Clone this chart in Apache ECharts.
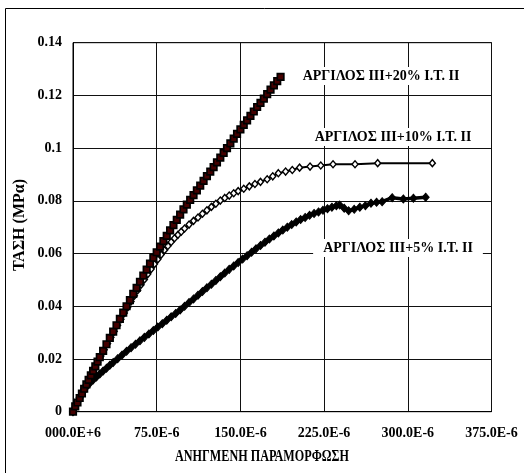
<!DOCTYPE html>
<html>
<head>
<meta charset="utf-8">
<script src="https://cdn.jsdelivr.net/npm/echarts@6/dist/echarts.min.js"></script>
<style>
html,body{margin:0;padding:0;background:#fff;}
#chart{width:524px;height:473px;}
</style>
</head>
<body>
<div id="chart"></div>
<script>
// strain in units of 1e-6, stress in MPa
const seriesNames = ['ΑΡΓΙΛΟΣ ΙΙΙ+20% Ι.Τ. ΙΙ', 'ΑΡΓΙΛΟΣ ΙΙΙ+10% Ι.Τ. ΙΙ', 'ΑΡΓΙΛΟΣ ΙΙΙ+5% Ι.Τ. ΙΙ'];

const strain20 = [0,2,4,6,8,10,12,14,16,18,20,22,24,27,30,33,36,39,42,45,48,51,54,57,60,63,66,69,72,75,78,81,84,87,90,93,96,99,102,105,108,111,114,117,120,123,126,129,132,135,138,141,144,147,150,153,156,159,162,165,168,171,174,177,180,183,186];
const stress20 = [0,0.002,0.0035,0.0052,0.0069,0.0087,0.0104,0.0121,0.0138,0.0155,0.0172,0.019,0.0207,0.0231,0.0256,0.028,0.0304,0.0328,0.0352,0.0376,0.04,0.0423,0.0447,0.047,0.0493,0.0516,0.0539,0.0562,0.0584,0.0605,0.0626,0.0647,0.0667,0.0688,0.0708,0.0728,0.0748,0.0768,0.0786,0.0804,0.0822,0.084,0.0858,0.0876,0.0894,0.0911,0.0928,0.0946,0.0964,0.0982,0.1,0.1018,0.1036,0.1054,0.1071,0.1088,0.1105,0.1122,0.1139,0.1156,0.1172,0.1188,0.1205,0.1222,0.1238,0.1254,0.127];

const strain10 = [0,2,4,6,8,10,12,14,16,18,20,22,25,28,31,34,37,40,43,46,49,52,55,58,61,64,67,70,73,76,79,82,85,88,91,94,97,100,104,108,112,116,120,124,128,132,136,140,144,148,153,158,163,168,174,179,184,190.5,196.5,203,212.4,222,233,252.7,273,322];
const stress10 = [0,0.0018,0.0035,0.0052,0.0069,0.0086,0.0103,0.012,0.0137,0.0154,0.017,0.0187,0.0211,0.0235,0.0259,0.0282,0.0305,0.0328,0.0351,0.0374,0.0396,0.0418,0.044,0.0461,0.0482,0.0502,0.0522,0.0541,0.056,0.0578,0.0596,0.0613,0.0629,0.0644,0.0658,0.0671,0.0683,0.0695,0.071,0.0724,0.0737,0.0751,0.0764,0.0777,0.0789,0.0801,0.0811,0.082,0.0829,0.0837,0.0846,0.0855,0.0864,0.0872,0.0882,0.0893,0.0905,0.0911,0.0917,0.0926,0.093,0.0934,0.0939,0.0939,0.0943,0.0943];

const strain5 = [0,3,6,9,12,15,18,21,24,27,30,33,36,40,44,48,52,56,60,64,68,72,76,80,84,88,92,96,100,104,108,112,116,120,124,128,132,136,140,144,148,152,156,160,164,168,172,176,180,184,188,192,196,200,204,208,212,216,220,224,228,232,236,239,243,247,252,257,262,267,272,277,286,296,305,316];
const stress5 = [0,0.0028,0.0054,0.0076,0.0094,0.0108,0.012,0.0132,0.0143,0.0154,0.0165,0.0176,0.0187,0.0201,0.0215,0.0229,0.0243,0.0256,0.0269,0.0282,0.0295,0.0308,0.0321,0.0334,0.0347,0.036,0.0373,0.0386,0.04,0.0414,0.0428,0.0442,0.0456,0.047,0.0484,0.0498,0.0512,0.0526,0.054,0.0553,0.0566,0.0579,0.0592,0.0605,0.0618,0.0631,0.0643,0.0655,0.0667,0.0678,0.0689,0.07,0.071,0.072,0.0729,0.0737,0.0745,0.0752,0.0758,0.0764,0.077,0.0776,0.0781,0.0784,0.0772,0.0762,0.0768,0.0776,0.0781,0.0791,0.0795,0.0797,0.0812,0.0807,0.081,0.0814];

const xTickLabels = ['000.0E+6','75.0E-6','150.0E-6','225.0E-6','300.0E-6','375.0E-6'];
const yTickLabels = ['0','0.02','0.04','0.06','0.08','0.1','0.12','0.14'];

const xTitle = 'ΑΝΗΓΜΕΝΗ ΠΑΡΑΜΟΡΦΩΣΗ';
const yTitle = 'ΤΑΣΗ (ΜΡα)';

function pairs(xs, ys){ return xs.map((x,i)=>[x, ys[i]]); }

const FONT = '"Liberation Serif", "Times New Roman", serif';
const chart = echarts.init(document.getElementById('chart'), null, {renderer:'canvas'});
chart.setOption({
  animation: false,
  backgroundColor: '#fff',
  grid: {left:73, right:32.5, top:42.7, bottom:61.3, show:true, borderColor:'#000', borderWidth:1, containLabel:false},
  xAxis: {
    type:'value', min:0, max:375, interval:75,
    axisLine:{show:true, onZero:false, lineStyle:{color:'#000', width:1}},
    axisTick:{show:false},
    splitLine:{show:true, lineStyle:{color:'#111', width:1}},
    axisLabel:{margin:15, color:'#000', fontFamily:FONT, fontWeight:'bold', fontSize:14,
      formatter:(v)=>xTickLabels[Math.round(v/75)]}
  },
  yAxis: {
    type:'value', min:0, max:0.14, interval:0.02,
    axisLine:{show:true, onZero:false, lineStyle:{color:'#000', width:1}},
    axisTick:{show:false},
    splitLine:{show:true, lineStyle:{color:'#111', width:1}},
    axisLabel:{margin:11, color:'#000', fontFamily:FONT, fontWeight:'bold', fontSize:14,
      formatter:(v)=>yTickLabels[Math.round(v/0.02)]}
  },
  series: [
    {
      name: seriesNames[2], type:'line', data: pairs(strain5, stress5),
      symbol:'diamond', symbolSize:[7,8], showAllSymbol:true,
      itemStyle:{color:'#000', borderColor:'#000'},
      lineStyle:{color:'#000', width:3.5}, z:2
    },
    {
      name: seriesNames[1], type:'line', data: pairs(strain10, stress10),
      symbol:'diamond', symbolSize:[6,7], showAllSymbol:true,
      itemStyle:{color:'#fff', borderColor:'#000', borderWidth:1.4},
      lineStyle:{color:'#000', width:2}, z:3
    },
    {
      name: seriesNames[0], type:'line', data: pairs(strain20, stress20),
      symbol:'rect', symbolSize:6.5, showAllSymbol:true,
      itemStyle:{color:'#450000', borderColor:'#000', borderWidth:1.7},
      lineStyle:{color:'#000', width:3}, z:4
    }
  ],
  graphic: [
    {type:'line', shape:{x1:5.5, y1:8.5, x2:524, y2:8.5}, style:{stroke:'#000', lineWidth:1}},
    {type:'line', shape:{x1:5.5, y1:8.5, x2:5.5, y2:473}, style:{stroke:'#000', lineWidth:1}},
    {type:'text', x:262, y:457, scaleX:0.76, style:{text:xTitle, font:'bold 16px '+FONT, fill:'#000', align:'center', verticalAlign:'middle'}},
    {type:'text', x:20, y:225, rotation:Math.PI/2, style:{text:yTitle, font:'bold 16px '+FONT, fill:'#000', align:'center', verticalAlign:'middle'}},
    {type:'text', x:381, y:76, z:10, style:{text:seriesNames[0], font:'bold 14px '+FONT, fill:'#000', align:'center', verticalAlign:'middle', backgroundColor:'#fff', padding:[2,4]}},
    {type:'text', x:393, y:137, z:10, style:{text:seriesNames[1], font:'bold 14px '+FONT, fill:'#000', align:'center', verticalAlign:'middle', backgroundColor:'#fff', padding:[2,4]}},
    {type:'text', x:398, y:248, z:10, style:{text:seriesNames[2], font:'bold 14px '+FONT, fill:'#000', align:'center', verticalAlign:'middle', backgroundColor:'#fff', padding:[2,10]}}
  ]
});
</script>
</body>
</html>
